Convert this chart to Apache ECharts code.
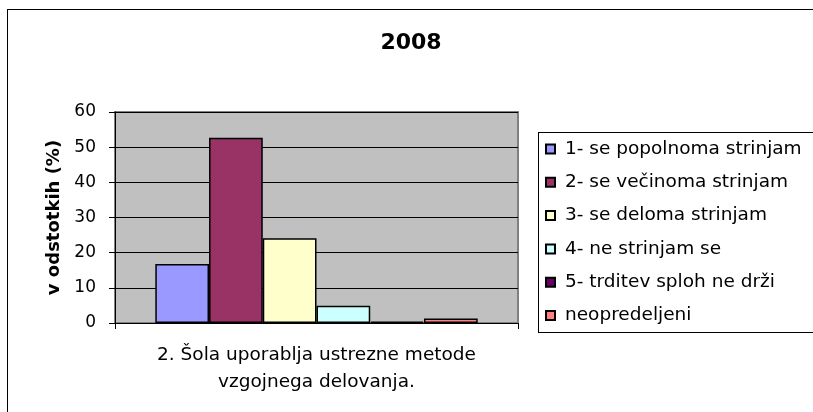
<!DOCTYPE html>
<html>
<head>
<meta charset="utf-8">
<script src="https://cdn.jsdelivr.net/npm/echarts@6/dist/echarts.min.js"></script>
<style>
html,body{margin:0;padding:0;background:#fff;overflow:hidden;}
#wrap{position:relative;width:813px;height:412px;overflow:hidden;}
#c{position:absolute;left:0;top:0;width:813px;height:412px;}
#frame{position:absolute;left:7px;top:9px;width:1000px;height:1000px;border-left:1.5px solid #000;border-top:1.5px solid #000;pointer-events:none;}
#legbox{position:absolute;left:538px;top:132px;width:1000px;height:199px;border-left:1px solid #000;border-top:1px solid #000;border-bottom:1px solid #000;pointer-events:none;}
</style>
</head>
<body>
<div id="wrap"><div id="c"></div><div id="frame"></div><div id="legbox"></div></div>
<script>
const titleText = '2008';
const categories = ['2. Šola uporablja ustrezne metode\nvzgojnega delovanja.'];
const seriesNames = ['1- se popolnoma strinjam', '2- se večinoma strinjam', '3- se deloma strinjam', '4- ne strinjam se', '5- trditev sploh ne drži', 'neopredeljeni'];
const seriesValues = [16.8, 52.7, 24.1, 4.9, 0.4, 1.3];
const seriesColors = ['#9999FF', '#993366', '#FFFFCC', '#CCFFFF', '#660066', '#FF8080'];
const yTicks = [0, 10, 20, 30, 40, 50, 60];
const yAxisName = 'v odstotkih (%)';

const FONT = 'DejaVu Sans';
const chart = echarts.init(document.getElementById('c'), null, {renderer: 'canvas'});

const series = seriesNames.map((name, i) => ({
  name: name,
  type: 'bar',
  data: [seriesValues[i]],
  barGap: '0%',
  barCategoryGap: '20%',
  itemStyle: {color: seriesColors[i], borderColor: '#000', borderWidth: 1.5},
  emphasis: {disabled: true}
}));

chart.setOption({
  animation: false,
  backgroundColor: '#fff',
  title: {
    text: titleText, left: 411, top: 32, padding: 0, textAlign: 'center',
    textStyle: {fontFamily: FONT, fontWeight: 'bold', fontSize: 22, color: '#000'}
  },
  legend: {
    orient: 'vertical', left: 538, top: 132,
    padding: [7, 5, 7, 7],
    itemWidth: 9, itemHeight: 9, itemGap: 13.3,
    icon: 'rect',
    borderWidth: 0,
    selectedMode: false,
    textStyle: {fontFamily: FONT, fontSize: 18.5, color: '#000', lineHeight: 20, padding: [0, 0, 0, 5]},
    data: seriesNames
  },
  grid: {
    left: 115, right: 295, top: 112, bottom: 89,
    show: true, backgroundColor: '#C0C0C0', borderColor: '#808080', borderWidth: 2,
    containLabel: false
  },
  xAxis: {
    type: 'category', data: categories,
    axisLine: {show: true, lineStyle: {color: '#000', width: 1}},
    axisTick: {show: true, length: 6, alignWithLabel: false, lineStyle: {color: '#000'}},
    axisLabel: {fontFamily: FONT, fontSize: 18.5, color: '#000', lineHeight: 27, margin: 19, align: 'center'},
    splitLine: {show: false}
  },
  yAxis: {
    type: 'value', min: yTicks[0], max: yTicks[yTicks.length - 1], interval: 10,
    name: yAxisName, nameLocation: 'middle', nameGap: 52, nameRotate: 90,
    nameTextStyle: {fontFamily: FONT, fontWeight: 'bold', fontSize: 18, color: '#000'},
    axisLine: {show: true, lineStyle: {color: '#000', width: 1}},
    axisTick: {show: true, length: 6, lineStyle: {color: '#000'}},
    axisLabel: {fontFamily: FONT, fontSize: 17, color: '#000', margin: 19},
    splitLine: {show: true, lineStyle: {color: '#000', width: 1}}
  },
  series: series
});
</script>
</body>
</html>
